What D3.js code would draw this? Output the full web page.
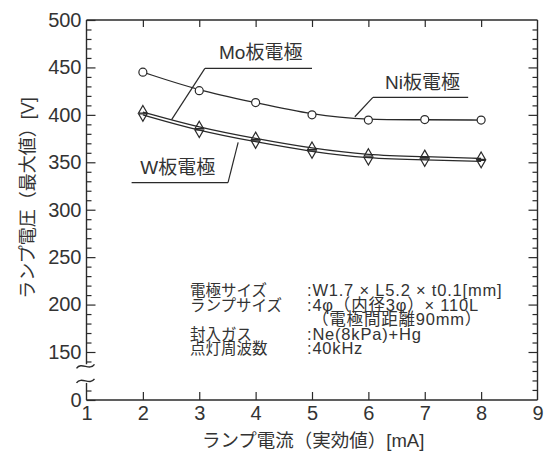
<!DOCTYPE html>
<html>
<head>
<meta charset="utf-8">
<script src="https://cdn.jsdelivr.net/npm/d3@7"></script>
<style>
  body { margin: 0; background: #fff; }
  svg text { font-family: "Liberation Sans", Arial, "Noto Sans CJK JP", sans-serif; fill: #333; }
</style>
</head>
<body>
<div id="chart"></div>
<script>
// lamp current [mA]
const current = [2, 3, 4, 5, 6, 7, 8];
// peak lamp voltage [V]
const niVolt = [445, 425.5, 413, 400, 394.5, 395, 394.5];
const moVolt = [403, 386.5, 375, 364.5, 357.5, 356, 354];
const wVolt  = [400, 383, 371.5, 361, 354, 352.5, 351];

const xTicks = [1, 2, 3, 4, 5, 6, 7, 8, 9];
const yMajor = [150, 200, 250, 300, 350, 400, 450, 500];

const notes = [
  ["電極サイズ", ":W1.7 × L5.2 × t0.1[mm]"],
  ["ランプサイズ", ":4φ（内径3φ）× 110L"],
  ["", "（電極間距離90mm）"],
  ["封入ガス", ":Ne(8kPa)+Hg"],
  ["点灯周波数", ":40kHz"]
];

const width = 552, height = 451;
const margin = { left: 86.5, right: 14.5, top: 20, bottom: 51 };
const ink = "#2a2a2a";

const svg = d3.select("#chart").append("svg")
  .attr("width", width).attr("height", height);

const x = d3.scaleLinear().domain([1, 9]).range([margin.left, width - margin.right]);
const y = d3.scaleLinear().domain([150, 500]).range([352, margin.top]);
const unit = (y(150) - y(500)) / 350;
const bottomY = height - margin.bottom;
// lower segment of the broken axis (0 ... )
const yLow = d3.scaleLinear().domain([0, 10]).range([bottomY, bottomY - 10 * unit]);

// ---- frame ----
const frame = svg.append("g").attr("stroke", ink).attr("stroke-width", 1.4).attr("fill", "none");
frame.append("line").attr("x1", x(1)).attr("x2", x(9)).attr("y1", y(500)).attr("y2", y(500));
frame.append("line").attr("x1", x(9)).attr("x2", x(9)).attr("y1", y(500)).attr("y2", bottomY);
frame.append("line").attr("x1", x(1)).attr("x2", x(9)).attr("y1", bottomY).attr("y2", bottomY);
frame.append("line").attr("x1", x(1)).attr("x2", x(1)).attr("y1", y(500)).attr("y2", y(137));
frame.append("line").attr("x1", x(1)).attr("x2", x(1)).attr("y1", yLow(18)).attr("y2", bottomY);

// break marks
const breakMark = (cy) => {
  const p = d3.path();
  const cx = x(1) - 1;
  p.moveTo(cx - 9, cy + 2);
  p.bezierCurveTo(cx - 4, cy - 5, cx + 4, cy + 5, cx + 9, cy - 2);
  return p.toString();
};
frame.append("path").attr("d", breakMark(y(137) + 2));
frame.append("path").attr("d", breakMark(yLow(18) - 2));

// ---- ticks ----
const tickStyle = g => {
  g.select(".domain").remove();
  g.selectAll(".tick line").attr("stroke", ink).attr("stroke-width", 1.2);
  g.selectAll(".tick text").attr("fill", "#333").style("font-size", "20px");
};

const minorLeft = d3.range(140, 501, 10).filter(v => v % 50 !== 0);
svg.append("g").attr("transform", `translate(${x(1)},0)`)
  .call(d3.axisLeft(y).tickValues(minorLeft).tickSize(-5).tickFormat(""))
  .call(tickStyle);
svg.append("g").attr("transform", `translate(${x(1)},0)`)
  .call(d3.axisLeft(y).tickValues(yMajor).tickSize(-9).tickPadding(5))
  .call(tickStyle);
svg.append("g").attr("transform", `translate(${x(1)},0)`)
  .call(d3.axisLeft(yLow).tickValues([10]).tickSize(-5).tickFormat(""))
  .call(tickStyle);
svg.append("g").attr("transform", `translate(${x(1)},0)`)
  .call(d3.axisLeft(yLow).tickValues([0]).tickSize(-9).tickPadding(5))
  .call(tickStyle);

// right side
const minorRight = d3.range(110, 500, 10).filter(v => v % 50 !== 0);
svg.append("g").attr("transform", `translate(${x(9)},0)`)
  .call(d3.axisRight(y).tickValues(minorRight).tickSize(-5).tickFormat(""))
  .call(tickStyle);
svg.append("g").attr("transform", `translate(${x(9)},0)`)
  .call(d3.axisRight(y).tickValues(yMajor.slice(0, -1)).tickSize(-9).tickFormat(""))
  .call(tickStyle);

// top / bottom
svg.append("g").attr("transform", `translate(0,${y(500)})`)
  .call(d3.axisTop(x).tickValues(current).tickSize(-7).tickFormat(""))
  .call(tickStyle);
svg.append("g").attr("transform", `translate(0,${bottomY})`)
  .call(d3.axisBottom(x).tickValues(current).tickSize(-8).tickFormat(""))
  .call(tickStyle);
svg.append("g").attr("transform", `translate(0,${bottomY})`)
  .call(d3.axisBottom(x).tickValues(xTicks).tickSize(0).tickPadding(6))
  .call(tickStyle);

// ---- axis titles ----
svg.append("text")
  .attr("x", x(5.02)).attr("y", height - 4)
  .attr("text-anchor", "middle").style("font-size", "18.5px")
  .text("ランプ電流（実効値）[mA]");
svg.append("text")
  .attr("transform", `translate(34,198) rotate(-90)`)
  .attr("text-anchor", "middle").style("font-size", "18px")
  .text("ランプ電圧（最大値）[V]");

// ---- series ----
const line = vals => d3.line()
  .x((d, i) => x(current[i]))
  .y(d => y(d))
  .curve(d3.curveBasis)(vals);

const series = svg.append("g").attr("fill", "none").attr("stroke", ink).attr("stroke-width", 1.3);
series.append("path").attr("d", line(niVolt));
series.append("path").attr("d", line(moVolt));
series.append("path").attr("d", line(wVolt));

svg.append("g").selectAll("circle").data(niVolt).join("circle")
  .attr("cx", (d, i) => x(current[i])).attr("cy", d => y(d)).attr("r", 4)
  .attr("fill", "#fff").attr("stroke", ink).attr("stroke-width", 1.2);

const tri = d3.symbol(d3.symbolTriangle, 32);
svg.append("g").selectAll("path").data(moVolt).join("path")
  .attr("transform", (d, i) => `translate(${x(current[i])},${y(d) - 1.5})`)
  .attr("d", tri).attr("fill", "none").attr("stroke", ink).attr("stroke-width", 1.2);
svg.append("g").selectAll("path").data(wVolt).join("path")
  .attr("transform", (d, i) => `translate(${x(current[i])},${y(d) + 1.5}) rotate(180)`)
  .attr("d", tri).attr("fill", "none").attr("stroke", ink).attr("stroke-width", 1.2);

// ---- series labels with leader lines ----
const labels = [
  { text: "Mo板電極", tx: 4.09, ty: 459, u0: 3.10, u1: 5.00, uy: 449, lx: 3.10, ly: 449, ex: 2.51, ey: 395 },
  { text: "Ni板電極", tx: 6.96, ty: 427.5, u0: 6.08, u1: 7.77, uy: 418.5, lx: 6.08, ly: 418.5, ex: 5.76, ey: 398 },
  { text: "W板電極", tx: 2.62, ty: 338, u0: 1.80, u1: 3.51, uy: 328.5, lx: 3.51, ly: 328.5, ex: 3.69, ey: 371 }
];
const lab = svg.append("g");
labels.forEach(l => {
  lab.append("text").attr("x", x(l.tx)).attr("y", y(l.ty))
    .attr("text-anchor", "middle").style("font-size", "19px").text(l.text);
  lab.append("line").attr("x1", x(l.u0)).attr("x2", x(l.u1)).attr("y1", y(l.uy)).attr("y2", y(l.uy))
    .attr("stroke", ink).attr("stroke-width", 1.2);
  lab.append("line").attr("x1", x(l.lx)).attr("y1", y(l.ly)).attr("x2", x(l.ex)).attr("y2", y(l.ey))
    .attr("stroke", ink).attr("stroke-width", 1.2);
});

// ---- conditions note ----
const note = svg.append("g");
notes.forEach((r, i) => {
  const by = 296 + i * 14.5;
  note.append("text").attr("x", 190).attr("y", by)
    .style("font-size", "15.5px").text(r[0]);
  note.append("text").attr("x", r[0] ? 307 : 312).attr("y", by)
    .style("font-size", "16.5px").style("letter-spacing", "0.8px").text(r[1]);
});
</script>
</body>
</html>
